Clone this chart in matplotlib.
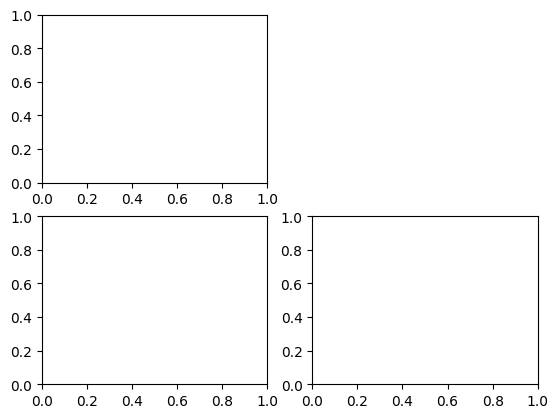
import matplotlib
matplotlib.use("Agg")
import matplotlib.pyplot as plt

# 2x2 grid, upper right panel removed
n_rows = 2
n_cols = 2
removed = (0, 1)

fig, axs = plt.subplots(n_rows, n_cols)
axs[removed].remove()

fig.savefig("out.png", bbox_inches="tight")
